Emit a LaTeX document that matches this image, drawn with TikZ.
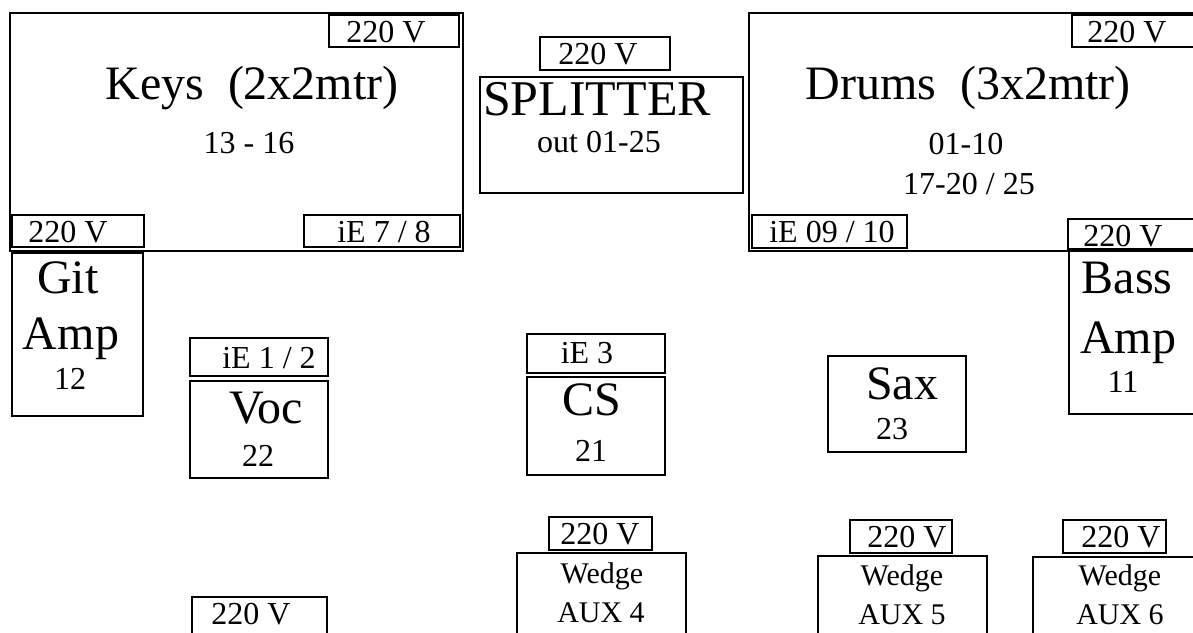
\documentclass[tikz,border=0pt]{standalone}
\usepackage{fontspec}
\setmainfont{Liberation Serif}
\usetikzlibrary{backgrounds}

\begin{document}
\begin{tikzpicture}[x=1pt,y=-1pt,
  box/.style={line width=2pt},
  lbl/.style={anchor=base,inner sep=0pt},
  title/.style={lbl,font=\fontsize{48}{50}\selectfont},
  sub/.style={lbl,font=\fontsize{32}{34}\selectfont},
  wedge/.style={lbl,font=\fontsize{30}{32}\selectfont}]
\useasboundingbox (0,0) rectangle (1193,632);
\clip (0,0) rectangle (1193,632);
% keys riser
\draw[box] (10,13) rectangle (463,251);
\draw[box] (329,15) rectangle (459,47);
\draw[box] (12,215) rectangle (144,247);
\draw[box] (304,215) rectangle (460,247);
\node[title] (keys) at (252,99) {Keys\ \ (2x2mtr)};
\node[sub] (keysch) at (249,153) {13 - 16};
\node[sub] (keyspwr) at (386,42) {220 V};
\node[sub] (gitpwr) at (68,242) {220 V};
\node[sub] (keysie) at (384,242) {iE 7 / 8};
% splitter
\draw[box] (540,37) rectangle (670,70);
\draw[box] (480,77) rectangle (743,193);
\node[sub] (splitpwr) at (598,64) {220 V};
\node[lbl,font=\fontsize{50}{52}\selectfont] (split) at (597,115) {SPLITTER};
\node[sub] (splitout) at (599,152) {out 01-25};
% drum riser
\draw[box] (749,13) rectangle (1210,251);
\draw[box] (1072,15) rectangle (1210,47);
\draw[box] (752,215) rectangle (907,248);
\node[title] (drums) at (968,99) {Drums\ \ (3x2mtr)};
\node[sub] (drumch) at (966,154) {01-10};
\node[sub] (drumch2) at (969,194) {17-20 / 25};
\node[sub] (drumpwr) at (1127,42) {220 V};
\node[sub] (drumie) at (832,242) {iE 09 / 10};
% amps
\draw[box] (12,253) rectangle (143,416);
\node[title] (git) at (68,293) {Git};
\node[title] (gitamp) at (71,349) {Amp};
\node[sub] (gitch) at (70,389) {12};
\draw[box] (1069,250) rectangle (1210,414);
\draw[box] (1068,219) rectangle (1210,249);
\node[sub] (basspwr) at (1123,246) {220 V};
\node[title] (bass) at (1127,293) {Bass};
\node[title] (bassamp) at (1128,353) {Amp};
\node[sub] (bassch) at (1123,392) {11};
% front line
\draw[box] (190,338) rectangle (328,376);
\draw[box] (190,381) rectangle (328,478);
\node[sub] (vocie) at (269,368) {iE 1 / 2};
\node[title] (voc) at (266,423) {Voc};
\node[sub] (vocch) at (258,466) {22};
\draw[box] (527,334) rectangle (665,373);
\draw[box] (527,377) rectangle (665,475);
\node[sub] (csie) at (587,363) {iE 3};
\node[title] (cs) at (592,415) {CS};
\node[sub] (csch) at (591,461) {21};
\draw[box] (828,356) rectangle (966,452);
\node[title] (sax) at (902,399) {Sax};
\node[sub] (saxch) at (892,439) {23};
% wedges
\draw[box] (192,597) rectangle (327,660);
\node[sub] (vocpwr) at (251,624) {220 V};
\draw[box] (549,517) rectangle (652,550);
\draw[box] (517,553) rectangle (686,660);
\node[sub] (auxpwra) at (600,544) {220 V};
\node[wedge] (wedgea) at (602,583) {Wedge};
\node[wedge] (auxa) at (601,622) {AUX 4};
\draw[box] (850,520) rectangle (952,553);
\draw[box] (818,556) rectangle (987,660);
\node[sub] (auxpwrb) at (907,547) {220 V};
\node[wedge] (wedgeb) at (902,585) {Wedge};
\node[wedge] (auxb) at (902,624) {AUX 5};
\draw[box] (1063,520) rectangle (1166,553);
\draw[box] (1033,557) rectangle (1210,660);
\node[sub] (auxpwrc) at (1121,547) {220 V};
\node[wedge] (wedgec) at (1120,585) {Wedge};
\node[wedge] (auxc) at (1120,624) {AUX 6};
\end{tikzpicture}
\end{document}
